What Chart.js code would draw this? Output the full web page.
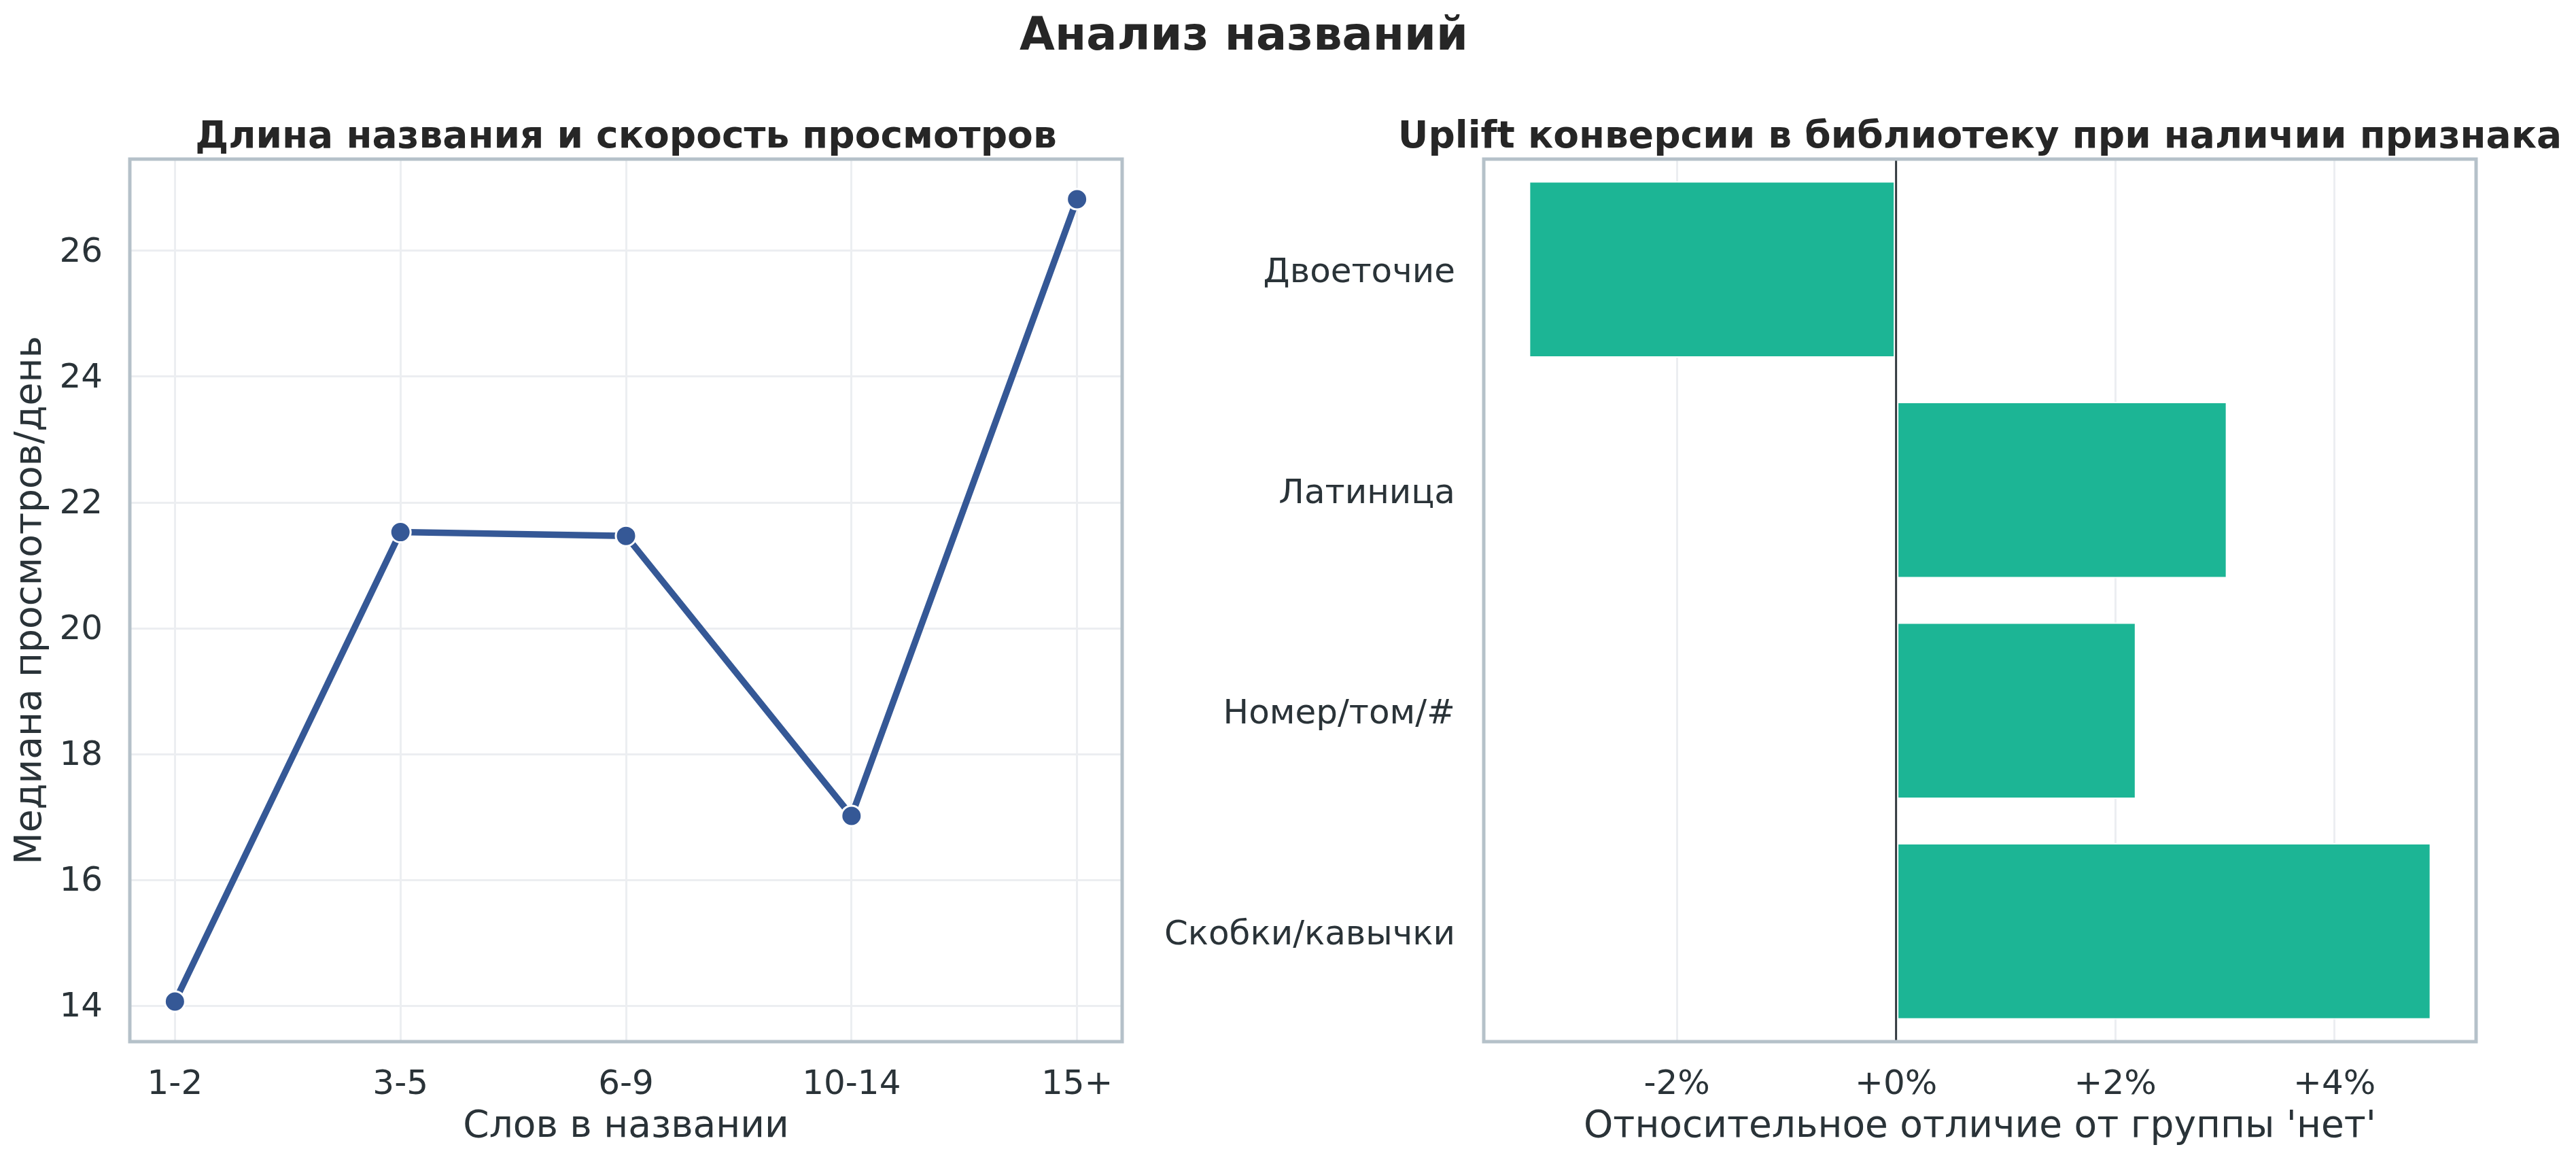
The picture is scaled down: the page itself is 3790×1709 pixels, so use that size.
<!DOCTYPE html>
<html>
<head>
<meta charset="utf-8">
<script src="https://cdn.jsdelivr.net/npm/chart.js@4.4.1/dist/chart.umd.min.js"></script>
<style>
  html, body { margin: 0; padding: 0; background: #fff; }
  body { width: 3790px; height: 1709px; position: relative; overflow: hidden; font-family: "DejaVu Sans", sans-serif; }
  #suptitle { position: absolute; left: 1830px; top: 17px; transform: translateX(-50%); font-size: 67px; font-weight: bold; line-height: 1; color: #262626; white-space: nowrap; }
  .box { position: absolute; top: 150px; height: 1559px; }
  #leftBox { left: 0; width: 1700px; }
  #rightBox { left: 1700px; width: 2090px; }
</style>
</head>
<body>
<div id="suptitle">Анализ названий</div>
<div class="box" id="leftBox"><canvas id="lineChart"></canvas></div>
<div class="box" id="rightBox"><canvas id="barChart"></canvas></div>

<script>
// DATA
const wordBins = ["1-2", "3-5", "6-9", "10-14", "15+"];
const medianViews = [14.07, 21.53, 21.47, 17.02, 26.82];
const viewTicks = [14, 16, 18, 20, 22, 24, 26];

const features = ["Двоеточие", "Латиница", "Номер/том/#", "Скобки/кавычки"];
const upliftPct = [-3.35, 3.02, 2.19, 4.88];
const upliftTicks = [-2, 0, 2, 4];

const FONT = "'DejaVu Sans'";
const TEXT = "#2a3338";
const GRID = "#eceef1";
const SPINE = "#b5c1c9";

// matplotlib style 5% margins
function padRange(vals, m) {
    const lo = Math.min(...vals), hi = Math.max(...vals);
    const d = (hi - lo) * m;
    return [lo - d, hi + d];
}

// frame + axes title
const frame = {
    id: "frame",
    afterDraw(chart, args, opts) {
        const { ctx, chartArea: a } = chart;
        ctx.save();
        ctx.strokeStyle = SPINE;
        ctx.lineWidth = 5;
        ctx.strokeRect(a.left, a.top, a.right - a.left, a.bottom - a.top);
        ctx.font = "bold 55px " + FONT;
        ctx.fillStyle = "#262626";
        ctx.textAlign = "center";
        ctx.textBaseline = "alphabetic";
        ctx.fillText(opts.text, (a.left + a.right) / 2, a.top - 17);
        ctx.restore();
    }
};

// vertical line at zero
const zeroLine = {
    id: "zeroLine",
    afterDatasetsDraw(chart) {
        if (!chart.options.plugins.zeroLine) return;
        const { ctx, chartArea: a, scales } = chart;
        const x = scales.x.getPixelForValue(0);
        ctx.save();
        ctx.strokeStyle = "#333a3f";
        ctx.lineWidth = 3;
        ctx.beginPath();
        ctx.moveTo(x, a.top);
        ctx.lineTo(x, a.bottom);
        ctx.stroke();
        ctx.restore();
    }
};

Chart.register(frame, zeroLine);

const tickFont = { family: FONT, size: 50 };
const titleFont = { family: FONT, size: 55 };

// LINE CHART
const yRange = padRange(medianViews, 0.05);
const xRange = [-0.2, wordBins.length - 1 + 0.2];

new Chart(document.getElementById("lineChart"), {
    type: "line",
    data: {
        datasets: [{
            data: medianViews.map((v, i) => ({ x: i, y: v })),
            borderColor: "#355896",
            borderWidth: 9.5,
            pointRadius: 15,
            pointHoverRadius: 15,
            pointBackgroundColor: "#355896",
            pointBorderColor: "#ffffff",
            pointBorderWidth: 3,
            tension: 0
        }]
    },
    options: {
        responsive: true,
        maintainAspectRatio: false,
        animation: false,
        devicePixelRatio: 1,
        layout: { autoPadding: false, padding: { top: 84, right: 49, bottom: 0, left: 0 } },
        plugins: {
            legend: { display: false },
            tooltip: { enabled: false },
            frame: { text: "Длина названия и скорость просмотров" },
            zeroLine: false
        },
        scales: {
            x: {
                type: "linear",
                min: xRange[0],
                max: xRange[1],
                afterBuildTicks: s => { s.ticks = wordBins.map((_, i) => ({ value: i })); },
                afterFit: s => { s.height = 177; },
                ticks: {
                    callback: v => wordBins[v],
                    font: tickFont,
                    color: TEXT,
                    padding: 34,
                    maxRotation: 0,
                    autoSkip: false
                },
                grid: { color: GRID, lineWidth: 3, drawTicks: false },
                border: { display: false },
                title: { display: true, text: "Слов в названии", font: titleFont, color: TEXT, padding: { top: 0, bottom: 18 } }
            },
            y: {
                type: "linear",
                min: yRange[0],
                max: yRange[1],
                afterBuildTicks: s => { s.ticks = viewTicks.map(v => ({ value: v })); },
                afterFit: s => { s.width = 191; },
                ticks: { font: tickFont, color: TEXT, padding: 40, labelOffset: 3 },
                grid: { color: GRID, lineWidth: 3, drawTicks: false },
                border: { display: false },
                title: { display: true, text: "Медиана просмотров/день", font: titleFont, color: TEXT, padding: { top: 13, bottom: 0 } }
            }
        }
    }
});

// BAR CHART
const upRange = padRange(upliftPct, 0.05);

new Chart(document.getElementById("barChart"), {
    type: "bar",
    data: {
        labels: features,
        datasets: [{
            data: upliftPct,
            backgroundColor: "#1cb595",
            borderColor: "#ffffff",
            borderWidth: 2,
            borderSkipped: false,
            categoryPercentage: 0.8,
            barPercentage: 1.0
        }]
    },
    options: {
        indexAxis: "y",
        responsive: true,
        maintainAspectRatio: false,
        animation: false,
        devicePixelRatio: 1,
        layout: { autoPadding: false, padding: { top: 84, right: 147, bottom: 0, left: 0 } },
        plugins: {
            legend: { display: false },
            tooltip: { enabled: false },
            frame: { text: "Uplift конверсии в библиотеку при наличии признака" },
            zeroLine: true
        },
        scales: {
            x: {
                type: "linear",
                min: upRange[0],
                max: upRange[1],
                afterBuildTicks: s => { s.ticks = upliftTicks.map(v => ({ value: v })); },
                afterFit: s => { s.height = 177; },
                ticks: {
                    callback: v => (v >= 0 ? "+" : "") + v + "%",
                    font: tickFont,
                    color: TEXT,
                    padding: 34,
                    maxRotation: 0
                },
                grid: { color: GRID, lineWidth: 3, drawTicks: false },
                border: { display: false },
                title: { display: true, text: "Относительное отличие от группы 'нет'", font: titleFont, color: TEXT, padding: { top: 0, bottom: 18 } }
            },
            y: {
                afterFit: s => { s.width = 483; },
                ticks: { font: tickFont, color: TEXT, padding: 42, labelOffset: 6 },
                grid: { display: false, drawTicks: false },
                border: { display: false }
            }
        }
    }
});
</script>
</body>
</html>
